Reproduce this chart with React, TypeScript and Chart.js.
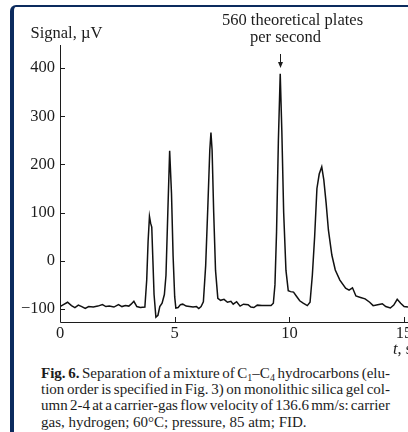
import React, { useEffect, useRef } from "react";
import { Chart, registerables } from "chart.js";

Chart.register(...registerables);

const times = [
  0, 0.15, 0.33, 0.5, 0.65, 0.8, 0.95, 1.1, 1.25, 1.45, 1.65, 1.85, 2.0, 2.15, 2.35, 2.55, 2.7, 2.85, 3.0, 3.1,
  3.22, 3.35, 3.5, 3.7, 3.78, 3.84, 3.9, 3.95, 4.0, 4.05, 4.1, 4.18, 4.27, 4.35, 4.45, 4.55, 4.62, 4.7, 4.78,
  4.86, 4.93, 5.0, 5.05, 5.15, 5.25, 5.35, 5.5, 5.65, 5.8, 5.95, 6.05, 6.15, 6.25, 6.35, 6.45, 6.53, 6.58, 6.63,
  6.7, 6.78, 6.88, 7.0, 7.15, 7.3, 7.45, 7.55, 7.7, 7.85, 8.0, 8.2, 8.32, 8.45, 8.6, 8.8, 9.0, 9.2, 9.3, 9.37,
  9.44, 9.52, 9.6, 9.67, 9.75, 9.85, 9.95, 10.05, 10.18, 10.3, 10.45, 10.6, 10.78, 10.9, 11.0, 11.1, 11.2, 11.3,
  11.41, 11.5, 11.6, 11.7, 11.85, 12.0, 12.2, 12.45, 12.6, 12.75, 12.9, 13.1, 13.3, 13.5, 13.65, 13.85, 14.05,
  14.2, 14.4, 14.55, 14.7, 14.85, 15.0, 15.17,
];

const signal = [
  -95, -91, -86, -93, -97, -92, -95, -99, -95, -96, -94, -91, -95, -94, -96, -91, -95, -93, -94, -90,
  -84, -95, -97, -96, -40, 40, 92, 78, 70, 0, -70, -117, -113, -95, -88, -70, -30, 100, 228,
  140, 10, -75, -98, -97, -91, -90, -94, -95, -96, -95, -99, -95, -85, -10, 120, 230, 266, 230,
  100, -20, -78, -82, -80, -86, -84, -90, -85, -94, -90, -91, -96, -97, -92, -93, -93, -93, -88, -50,
  60, 250, 388, 270, 100, -20, -62, -64, -65, -73, -83, -88, -93, -86, -30, 50, 150, 180,
  195, 168, 120, 64, 12, -19, -40, -57, -61, -56, -73, -76, -79, -86, -93, -91, -89,
  -95, -98, -92, -80, -88, -95, -96,
];

const xTicks = [0, 5, 10, 15];
const yTicks = [-100, 0, 100, 200, 300, 400];
const xRange = [0, 15.17];
const yRange = [-127, 447.7];
const arrowTime = 9.6;
const arrowTipValue = 400;

const yLabel = "Signal, \u00b5V";
const xLabelItalic = "t";
const xLabelRest = ", s";
const noteLine1 = "560 theoretical plates";
const noteLine2 = "per second";

const FONT = "'Liberation Serif', 'Times New Roman', serif";
const INK = "#1c1c1c";
const NAVY = "#0c2b5e";

const axesPlugin = {
  id: "customAxes",
  afterDatasetsDraw(chart: any) {
    const { ctx, chartArea, scales } = chart;
    const xs = scales.x;
    const ys = scales.y;
    ctx.save();
    ctx.strokeStyle = INK;
    ctx.lineWidth = 1;
    ctx.beginPath();
    ctx.moveTo(chartArea.left + 0.5, chartArea.top);
    ctx.lineTo(chartArea.left + 0.5, chartArea.bottom + 0.5);
    ctx.lineTo(chartArea.right, chartArea.bottom + 0.5);
    ctx.stroke();
    ctx.beginPath();
    for (const v of yTicks) {
      const py = Math.round(ys.getPixelForValue(v)) + 0.5;
      ctx.moveTo(chartArea.left, py);
      ctx.lineTo(chartArea.left + 5, py);
    }
    for (const v of xTicks) {
      const px = Math.round(xs.getPixelForValue(v)) + 0.5;
      ctx.moveTo(px, chartArea.bottom);
      ctx.lineTo(px, chartArea.bottom - 5);
    }
    ctx.stroke();
    // arrow
    const ax = Math.round(xs.getPixelForValue(arrowTime)) + 0.5;
    const tip = ys.getPixelForValue(arrowTipValue);
    ctx.beginPath();
    ctx.moveTo(ax, tip - 14);
    ctx.lineTo(ax, tip - 4);
    ctx.stroke();
    ctx.fillStyle = INK;
    ctx.beginPath();
    ctx.moveTo(ax - 2.5, tip - 6);
    ctx.lineTo(ax + 2.5, tip - 6);
    ctx.lineTo(ax, tip);
    ctx.closePath();
    ctx.fill();
    ctx.restore();
  },
};

function ChromChart() {
  const ref = useRef<HTMLCanvasElement | null>(null);
  useEffect(() => {
    if (!ref.current) return;
    const chart = new Chart(ref.current, {
      type: "line",
      data: {
        datasets: [
          {
            data: times.map((t, i) => ({ x: t, y: signal[i] })),
            borderColor: "#111",
            borderWidth: 1.5,
            pointRadius: 0,
            tension: 0,
            fill: false,
          },
        ],
      },
      options: {
        animation: false,
        responsive: false,
        maintainAspectRatio: false,
        devicePixelRatio: 1,
        layout: { padding: { top: 45, left: 0, right: 0, bottom: 0 } },
        plugins: { legend: { display: false }, tooltip: { enabled: false } },
        scales: {
          x: {
            type: "linear",
            min: xRange[0],
            max: xRange[1],
            grid: { display: false, drawTicks: false },
            border: { display: false },
            afterBuildTicks: (s: any) => {
              s.ticks = xTicks.map((v) => ({ value: v }));
            },
            afterFit: (s: any) => {
              s.height = 24;
              s.paddingLeft = 0;
              s.paddingRight = 0;
            },
            ticks: {
              autoSkip: false,
              maxRotation: 0,
              padding: 2,
              color: INK,
              font: { family: FONT, size: 16.5 },
              callback: (v: any) => String(v),
            },
          },
          y: {
            type: "linear",
            min: yRange[0],
            max: yRange[1],
            grid: { display: false, drawTicks: false },
            border: { display: false },
            afterBuildTicks: (s: any) => {
              s.ticks = yTicks.map((v) => ({ value: v }));
            },
            afterFit: (s: any) => {
              s.width = 60;
              s.paddingTop = 0;
              s.paddingBottom = 0;
            },
            ticks: {
              autoSkip: false,
              padding: 5,
              color: INK,
              font: { family: FONT, size: 16.5 },
              callback: (v: any) => (Number(v) < 0 ? "\u2212" + Math.abs(Number(v)) : String(v)),
            },
          },
        },
      },
      plugins: [axesPlugin],
    });
    return () => chart.destroy();
  }, []);
  return (
    <canvas
      ref={ref}
      width={408}
      height={346}
      style={{ position: "absolute", left: 0, top: 0, width: 408, height: 346 }}
    />
  );
}

const subStyle: React.CSSProperties = { fontSize: 10, lineHeight: 0, verticalAlign: -3 };
const capLine: React.CSSProperties = {
  height: 16.2,
  lineHeight: "16.2px",
  textAlign: "justify",
  textAlignLast: "justify",
  whiteSpace: "nowrap",
  wordSpacing: -3,
};

export default function App() {
  return (
    <div
      style={{
        position: "fixed",
        left: 0,
        top: 0,
        width: 408,
        height: 432,
        background: "#fff",
        overflow: "hidden",
        fontFamily: FONT,
        color: INK,
      }}
    >
      <div
        style={{
          position: "absolute",
          left: 10,
          top: 5,
          width: 420,
          height: 440,
          borderLeft: `4px solid ${NAVY}`,
          borderTop: `2.5px solid ${NAVY}`,
          borderTopLeftRadius: 6,
          boxSizing: "border-box",
        }}
      />
      <ChromChart />
      <div style={{ position: "absolute", left: 30.5, top: 24, fontSize: 16.5, lineHeight: "17px", whiteSpace: "nowrap" }}>
        {yLabel}
      </div>
      <div
        style={{
          position: "absolute",
          left: 292.5,
          top: 11,
          transform: "translateX(-50%)",
          fontSize: 16.5,
          lineHeight: "17px",
          whiteSpace: "nowrap",
        }}
      >
        {noteLine1}
      </div>
      <div
        style={{
          position: "absolute",
          left: 285.5,
          top: 28,
          transform: "translateX(-50%)",
          fontSize: 16.5,
          lineHeight: "17px",
          whiteSpace: "nowrap",
        }}
      >
        {noteLine2}
      </div>
      <div style={{ position: "absolute", left: 393, top: 340, fontSize: 16.5, lineHeight: "17px", whiteSpace: "nowrap" }}>
        <i>{xLabelItalic}</i>
        {xLabelRest}
      </div>
      <div style={{ position: "absolute", left: 41, top: 365, width: 349, fontSize: 15 }}>
        <div style={capLine}>
          <b>Fig. 6.</b> Separation of a mixture of C<sub style={subStyle}>1</sub>–C<sub style={subStyle}>4</sub>{" "}
          hydrocarbons (elu-
        </div>
        <div style={capLine}>tion order is specified in Fig. 3) on monolithic silica gel col-</div>
        <div style={capLine}>umn 2-4 at a carrier-gas flow velocity of 136.6 mm/s: carrier</div>
        <div style={{ ...capLine, textAlign: "left", textAlignLast: "left", wordSpacing: 0 }}>
          gas, hydrogen; 60°C; pressure, 85 atm; FID.
        </div>
      </div>
    </div>
  );
}
